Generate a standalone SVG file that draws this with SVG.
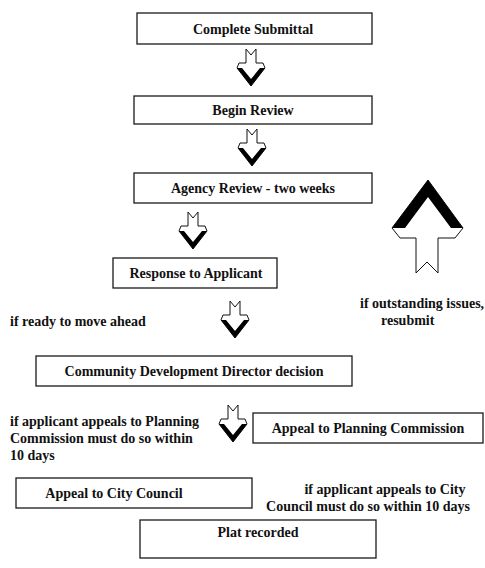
<svg xmlns="http://www.w3.org/2000/svg" width="485" height="568" viewBox="0 0 485 568">
<style>
.box{fill:#fff;stroke:#1a1a1a;stroke-width:1.3}
.t{font-family:"Liberation Serif","Times New Roman",serif;font-weight:bold;font-size:14px;fill:#111}
.c{text-anchor:middle}
.aw{fill:#fff;stroke:#111;stroke-width:1}
.ab{fill:#000}
</style>
<defs>
<g id="down">
<path class="aw" d="M-5,0 L0,6 L5,0 L5,14 L12,14 L14,19 L0,37 L-14,19 L-12,14 L-5,14 Z"/>
<path class="ab" d="M-14,19 L0,37 L14,19 L9,19 L0,30 L-9,19 Z"/>
</g>
</defs>
<rect width="485" height="568" fill="#fff"/>
<g id="connectors">
<use href="#down" x="251" y="49"/>
<use href="#down" x="252" y="129"/>
<use href="#down" x="193" y="212"/>
<use href="#down" x="235" y="301"/>
<use href="#down" x="233" y="405"/>
<g id="up-arrow">
<path class="aw" d="M428,180 L463,228 L455,238 L438,238 L438,273 L427,262 L416,273 L416,238 L400,238 L392,228 Z"/>
<path class="ab" d="M428,180 L463,228 L451,228 L428,197 L405,228 L392,228 Z"/>
</g>
</g>
<g id="n1"><rect class="box" x="137" y="13" width="235" height="31"/><text class="t c" x="253" y="34">Complete Submittal</text></g>
<g id="n2"><rect class="box" x="134" y="96" width="238" height="28"/><text class="t c" x="253" y="115">Begin Review</text></g>
<g id="n3"><rect class="box" x="134" y="173" width="238" height="30"/><text class="t c" x="253" y="193">Agency Review - two weeks</text></g>
<g id="n4"><rect class="box" x="113" y="258" width="164" height="30"/><text class="t c" x="196" y="278">Response to Applicant</text></g>
<g id="n5"><rect class="box" x="36" y="356" width="316" height="30"/><text class="t c" x="194" y="376">Community Development Director decision</text></g>
<g id="n6"><rect class="box" x="253" y="413" width="230" height="30"/><text class="t c" x="368" y="433">Appeal to Planning Commission</text></g>
<g id="n7"><rect class="box" x="16" y="478" width="236" height="30"/><text class="t c" x="114" y="498">Appeal to City Council</text></g>
<g id="n8"><rect class="box" x="140" y="520" width="236" height="38"/><text class="t c" x="258" y="537">Plat recorded</text></g>
<g id="labels">
<text class="t" x="360" y="308">if outstanding issues,</text>
<text class="t" x="381" y="325">resubmit</text>
<text class="t" x="10" y="326">if ready to move ahead</text>
<text class="t" x="10" y="426">if applicant appeals to Planning</text>
<text class="t" x="10" y="443">Commission must do so within</text>
<text class="t" x="10" y="460">10 days</text>
<text class="t c" x="385" y="494">if applicant appeals to City</text>
<text class="t c" x="368" y="511">Council must do so within 10 days</text>
</g>
</svg>
